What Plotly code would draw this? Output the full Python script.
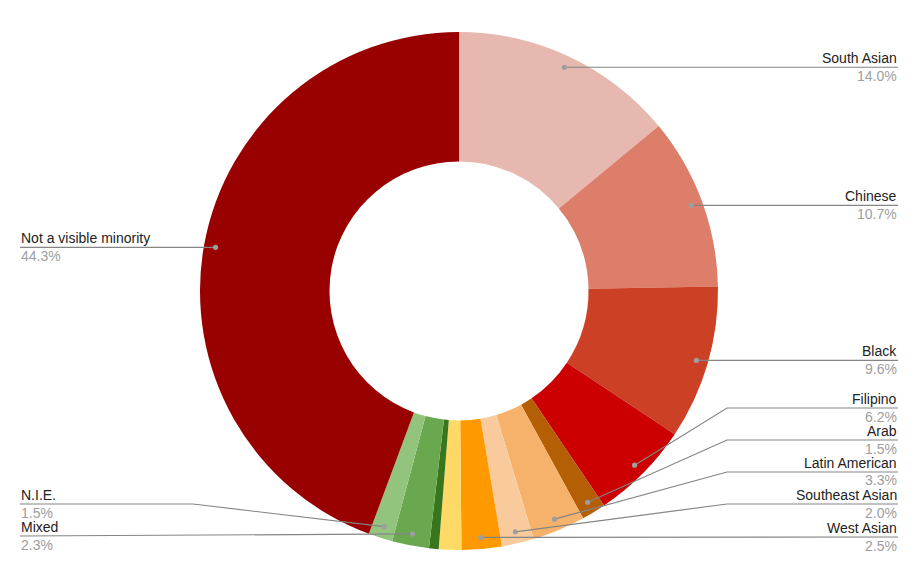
import math
import plotly.graph_objects as go

# ---- data ----
categories = ["South Asian", "Chinese", "Black", "Filipino", "Arab", "Latin American",
              "Southeast Asian", "West Asian", "Korean", "Japanese", "Mixed", "N.I.E.",
              "Not a visible minority"]
values = [14.0, 10.7, 9.6, 6.2, 1.5, 3.3, 2.0, 2.5, 1.4, 0.6, 2.3, 1.5, 44.3]
colors = ["#e6b8af", "#dd7e6b", "#cc4125", "#cc0000", "#b45f06", "#f6b26b",
          "#f9cb9c", "#ff9900", "#ffd966", "#38761d", "#6aa84f", "#93c47d", "#990000"]

# ---- layout / styling (page pixel space) ----
PAGE_W, PAGE_H = 915, 585
OFF = 8  # default body margin of the html page
W, H = PAGE_W - 2 * OFF, PAGE_H - 2 * OFF
CX, CY, R = 459, 291, 259
DOT_R = 0.955 * R
# label placement: side, leader-line y (None = at the dot), elbow x (None = straight)
label_cfg = {
    "South Asian": ("right", None, None),
    "Chinese": ("right", None, None),
    "Black": ("right", None, None),
    "Filipino": ("right", 408, 727),
    "Arab": ("right", 440, 727),
    "Latin American": ("right", 472, 727),
    "Southeast Asian": ("right", 504, 727),
    "West Asian": ("right", 537, None),
    "Not a visible minority": ("left", None, None),
    "N.I.E.": ("left", 504, 193),
    "Mixed": ("left", 536, None),
}
RIGHT_X, LEFT_X = 898, 20
FONT = "Liberation Sans, Arial, sans-serif"


def px(x):
    return (x - OFF) / W


def py(y):
    return 1 - (y - OFF) / H


fig = go.Figure()
fig.add_trace(go.Pie(
    labels=categories, values=values, sort=False, direction="clockwise", rotation=0,
    hole=0.5, textinfo="none", marker=dict(colors=colors, line=dict(width=0)),
    domain=dict(x=[px(CX - R), px(CX + R)], y=[py(CY + R), py(CY - R)]),
    showlegend=False,
))

total = sum(values)
shapes, annotations = [], []
cum = 0.0
for name, v in zip(categories, values):
    mid = 2 * math.pi * (cum + v / 2) / total
    cum += v
    if name not in label_cfg:
        continue
    side, ly, elbow = label_cfg[name]
    dx = CX + DOT_R * math.sin(mid)
    dy = CY - DOT_R * math.cos(mid)
    if ly is None:
        ly = dy
    tx = RIGHT_X if side == "right" else LEFT_X
    pts = [(tx, ly)]
    if elbow is not None:
        pts.append((elbow, ly))
    pts.append((dx, dy))
    path = "M " + " L ".join(f"{px(a)},{py(b)}" for a, b in pts)
    shapes.append(dict(type="path", path=path, xref="paper", yref="paper",
                       line=dict(color="#858585", width=1.2), layer="above"))
    shapes.append(dict(type="circle", xref="paper", yref="paper",
                       x0=px(dx - 2.6), x1=px(dx + 2.6), y0=py(dy + 2.6), y1=py(dy - 2.6),
                       fillcolor="#9e9e9e", line=dict(width=0), layer="above"))
    anchor = "right" if side == "right" else "left"
    annotations.append(dict(x=px(tx), y=py(ly - 9), xref="paper", yref="paper",
                            text=name, showarrow=False, xanchor=anchor, yanchor="middle",
                            font=dict(family=FONT, size=14, color="#222222"), borderpad=0))
    annotations.append(dict(x=px(tx), y=py(ly + 8.5), xref="paper", yref="paper",
                            text=f"{v:.1f}%", showarrow=False, xanchor=anchor, yanchor="middle",
                            font=dict(family=FONT, size=14, color="#9e9e9e"), borderpad=0))

fig.update_layout(
    width=W, height=H, margin=dict(l=0, r=0, t=0, b=0),
    paper_bgcolor="white", plot_bgcolor="white",
    shapes=shapes, annotations=annotations,
    font=dict(family=FONT),
)
fig.write_html("out.html")
